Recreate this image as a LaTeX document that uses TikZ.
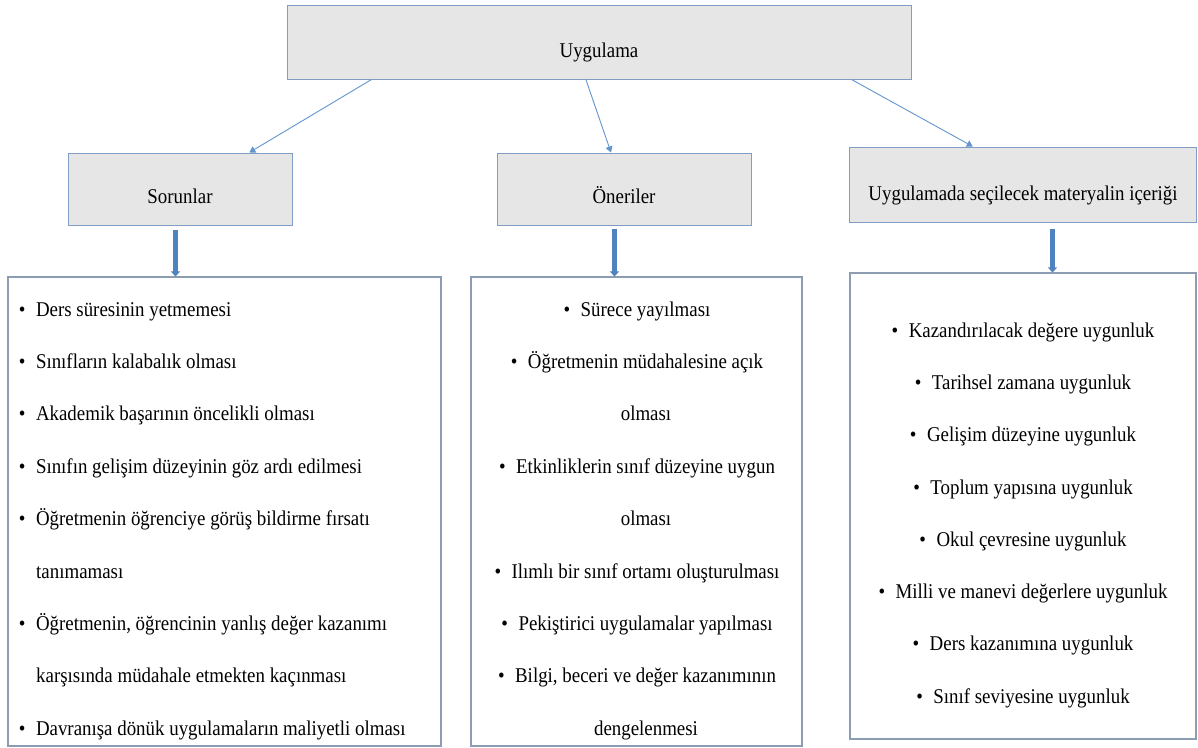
\documentclass[tikz,border=0pt]{standalone}
\usepackage{fontspec}
\setmainfont{Liberation Serif}[FakeStretch=0.9]
\usetikzlibrary{arrows.meta,calc}
\definecolor{boxfill}{HTML}{E7E6E6}
\definecolor{boxline}{RGB}{128,158,196}
\definecolor{listline}{RGB}{140,156,178}
\definecolor{thinblue}{RGB}{100,150,205}
\definecolor{thickblue}{RGB}{80,130,192}
\newcommand{\bul}{\textbullet\hspace{10.5pt}}
\begin{document}
\begin{tikzpicture}[x=1pt,y=-1pt,
  every node/.style={font=\fontsize{21}{25}\selectfont, inner sep=0pt},
  headbox/.style={draw=boxline, fill=boxfill, line width=1pt, rectangle},
  listbox/.style={draw=listline, fill=white, line width=1.1pt, rectangle},
  thinarrow/.style={draw=thinblue, line width=0.9pt, -{Triangle[width=7pt,length=6pt]}},
  thickarrow/.style={draw=thickblue, line width=4.5pt, -{Triangle[width=9pt,length=5pt]}},
  li/.style={anchor=base west},
  lc/.style={anchor=base}]
\fill[white] (0,0) rectangle (1198,747);
\useasboundingbox (0,0) rectangle (1198,747);

% heading boxes
\node[headbox, minimum width=624pt, minimum height=74pt] (top) at (599,42) {};
\node[lc] (toptxt) at (599,57) {Uygulama};
\node[headbox, minimum width=224pt, minimum height=72pt] (sor) at (180,189) {};
\node[lc] (sortxt) at (180,203) {Sorunlar};
\node[headbox, minimum width=254pt, minimum height=72pt] (one) at (624,189) {};
\node[lc] (onetxt) at (624,203) {Öneriler};
\node[headbox, minimum width=347pt, minimum height=75pt] (mat) at (1022.5,184.5) {};
\node[lc] (mattxt) at (1023,200) {Uygulamada seçilecek materyalin içeriği};

% list boxes
\node[listbox, minimum width=433pt, minimum height=469pt] (lbox) at (224.5,511.5) {};
\node[listbox, minimum width=331pt, minimum height=469pt] (mbox) at (636.5,511.5) {};
\node[listbox, minimum width=346pt, minimum height=466pt] (rbox) at (1023,506) {};

% thin arrows
\draw[thinarrow] ($(top.south west)!0.136!(top.south east)$) -- ($(sor.north west)!0.808!(sor.north east)$);
\draw[thinarrow] ($(top.south west)!0.479!(top.south east)$) -- ($(one.north west)!0.449!(one.north east)$);
\draw[thinarrow] ($(top.south west)!0.904!(top.south east)$) -- ($(mat.north west)!0.357!(mat.north east)$);

% thick arrows
\coordinate (a1) at ($(sor.south west)+(108,4)$);
\coordinate (a2) at ($(one.south west)+(118,3)$);
\coordinate (a3) at ($(mat.south west)+(204,6)$);
\draw[thickarrow] (a1) -- (a1 |- lbox.north);
\draw[thickarrow] (a2) -- (a2 |- mbox.north);
\draw[thickarrow] (a3) -- (a3 |- rbox.north);

% left list
\node[li] (l1) at (18.7,316) {\bul Ders süresinin yetmemesi};
\node[li] (l2) at (18.7,368.4) {\bul Sınıfların kalabalık olması};
\node[li] (l3) at (18.7,420.8) {\bul Akademik başarının öncelikli olması};
\node[li] (l4) at (18.7,473.2) {\bul Sınıfın gelişim düzeyinin göz ardı edilmesi};
\node[li] (l5) at (18.7,525.6) {\bul Öğretmenin öğrenciye görüş bildirme fırsatı};
\node[li] (l6) at (36,578) {tanımaması};
\node[li] (l7) at (18.7,630.4) {\bul Öğretmenin, öğrencinin yanlış değer kazanımı};
\node[li] (l8) at (36,682.8) {karşısında müdahale etmekten kaçınması};
\node[li] (l9) at (18.7,735.2) {\bul Davranışa dönük uygulamaların maliyetli olması};

% middle list
\node[lc] (m1) at (637,316) {\bul Sürece yayılması};
\node[lc] (m2) at (637,368.4) {\bul Öğretmenin müdahalesine açık};
\node[lc] (m3) at (646,420.8) {olması};
\node[lc] (m4) at (637,473.2) {\bul Etkinliklerin sınıf düzeyine uygun};
\node[lc] (m5) at (646,525.6) {olması};
\node[lc] (m6) at (637,578) {\bul Ilımlı bir sınıf ortamı oluşturulması};
\node[lc] (m7) at (637,630.4) {\bul Pekiştirici uygulamalar yapılması};
\node[lc] (m8) at (637,682.8) {\bul Bilgi, beceri ve değer kazanımının};
\node[lc] (m9) at (646,735.2) {dengelenmesi};

% right list
\node[lc] (r1) at (1023,337) {\bul Kazandırılacak değere uygunluk};
\node[lc] (r2) at (1023,389.3) {\bul Tarihsel zamana uygunluk};
\node[lc] (r3) at (1023,441.6) {\bul Gelişim düzeyine uygunluk};
\node[lc] (r4) at (1023,494) {\bul Toplum yapısına uygunluk};
\node[lc] (r5) at (1023,546.2) {\bul Okul çevresine uygunluk};
\node[lc] (r6) at (1023,598.5) {\bul Milli ve manevi değerlere uygunluk};
\node[lc] (r7) at (1023,650.8) {\bul Ders kazanımına uygunluk};
\node[lc] (r8) at (1023,703) {\bul Sınıf seviyesine uygunluk};
\end{tikzpicture}
\end{document}
